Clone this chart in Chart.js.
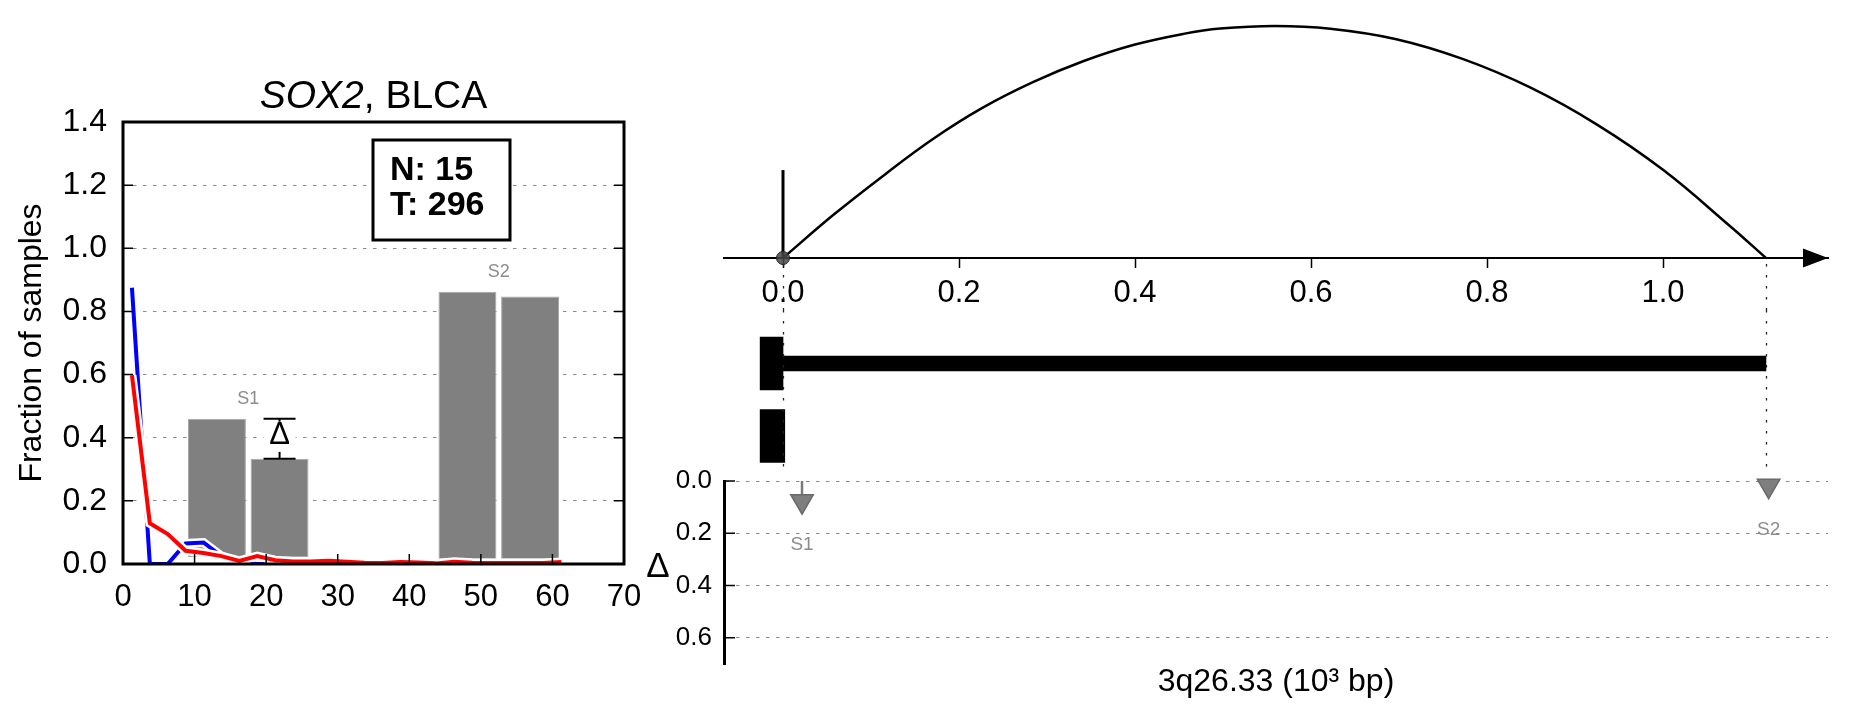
<!DOCTYPE html>
<html>
<head>
<meta charset="utf-8">
<title>SOX2, BLCA</title>
<script src="https://cdn.jsdelivr.net/npm/chart.js@4.4.1/dist/chart.umd.min.js"></script>
<style>
  html, body { margin: 0; padding: 0; background: #fff; }
  #page { position: relative; width: 1851px; height: 718px; overflow: hidden; background: #fff; }
  canvas { position: absolute; }
</style>
</head>
<body>
<div id="page">
  <canvas id="hist" width="700" height="718" style="left:0;top:0"></canvas>
  <canvas id="arc" width="1151" height="310" style="left:700px;top:0"></canvas>
  <canvas id="genes" width="1151" height="170" style="left:700px;top:310px"></canvas>
  <canvas id="delta" width="1251" height="278" style="left:600px;top:440px"></canvas>
</div>
<script>
// Left panel: fraction of samples per bin
const geneName = 'SOX2';
const cohort = 'BLCA';
const sampleN = 15;
const sampleT = 296;
const binCenters = [1.25, 3.75, 6.25, 8.75, 11.25, 13.75, 16.25, 18.75, 21.25, 23.75, 26.25, 28.75, 31.25,
                    33.75, 36.25, 38.75, 41.25, 43.75, 46.25, 48.75, 51.25, 53.75, 56.25, 58.75, 61.25];
const normalFrac = [0.875, 0, 0, 0.065, 0.068, 0.025, 0.005, 0, 0, 0, 0, 0, 0,
                    0, 0, 0, 0, 0, 0, 0, 0, 0, 0, 0, 0];
const tumorFrac = [0.598, 0.129, 0.095, 0.042, 0.035, 0.025, 0.010, 0.025, 0.012, 0.008, 0.008, 0.010, 0.007,
                   0.004, 0.003, 0.006, 0.005, 0.002, 0.007, 0.004, 0.003, 0.003, 0.003, 0.003, 0.006];
const winStart = [8.75, 17.5, 43.75, 52.5];
const winEnd = [17.5, 26.25, 52.5, 61.25];
const winLow = [0.022, 0.022, 0.016, 0.016];
const winHigh = [0.46, 0.333, 0.862, 0.847];
const siteNames = ['S1', 'S2'];
const siteWindows = [[0, 1], [2, 3]];
const deltaSite = 0;
const deltaLabel = 'Δ';
const histXTicks = [0, 10, 20, 30, 40, 50, 60, 70];
const histYTicks = [0, 0.2, 0.4, 0.6, 0.8, 1.0, 1.2, 1.4];

// Right panel: locus coordinates (10^3 bp)
const coordMin = -0.06705;
const coordMax = 1.1875;
const coordTicks = [0, 0.2, 0.4, 0.6, 0.8, 1.0];
const arcX = [0, 0.057, 0.114, 0.170, 0.227, 0.284, 0.341, 0.398, 0.455, 0.497, 0.559,
              0.622, 0.697, 0.773, 0.849, 0.925, 1.0, 1.076, 1.117];
const arcY = [0, 0.185, 0.355, 0.512, 0.648, 0.758, 0.848, 0.918, 0.966, 0.989, 1.0,
              0.988, 0.943, 0.857, 0.735, 0.575, 0.38, 0.138, 0];
const anchorX = 0;
const anchorStick = 0.379;
const linkEnds = [0, 1.117];
const txNames = ['tx1', 'tx2'];
const exonSpans = [[-0.026, 0], [-0.026, 0.002]];
const bodySpans = [[0, 1.117], null];
const siteX = [0.0216, 1.12];
const siteDelta = [0.077, 0.018];
const siteStem = [0.051, 0];
const deltaTicks = [0, 0.2, 0.4, 0.6];
const coordTitle = '3q26.33 (10³ bp)';

const FONT = "'Liberation Sans', Arial, Helvetica, sans-serif";
Chart.defaults.font.family = FONT;
Chart.defaults.color = '#000';

const fmt1 = v => Number(v).toFixed(1);
const fixTicks = vals => scale => { scale.ticks = vals.map(v => ({ value: v })); };
const baseOpts = {
    responsive: false,
    animation: false,
    devicePixelRatio: 1,
    events: [],
    plugins: { legend: { display: false }, tooltip: { enabled: false } }
};

// Left panel decorations
const histPlugin = {
    id: 'histDecor',
    beforeDatasetsDraw(chart) {
        const { ctx, chartArea: a } = chart;
        const bx = a.right - 251, by = a.top + 18, bw = 137, bh = 100;
        ctx.save();
        ctx.fillStyle = '#fff';
        ctx.fillRect(bx, by, bw, bh);
        ctx.lineWidth = 3;
        ctx.strokeStyle = '#000';
        ctx.strokeRect(bx, by, bw, bh);
        ctx.fillStyle = '#000';
        ctx.font = 'bold 34px ' + FONT;
        ctx.textAlign = 'left';
        ctx.textBaseline = 'alphabetic';
        ctx.fillText('N: ' + sampleN, bx + 17, by + 40);
        ctx.fillText('T: ' + sampleT, bx + 17, by + 75);
        ctx.restore();
    },
    afterDatasetsDraw(chart) {
        const { ctx, scales: { x, y } } = chart;
        ctx.save();
        // site names above each window pair
        ctx.fillStyle = '#8c8c8c';
        ctx.font = '18px ' + FONT;
        ctx.textAlign = 'center';
        ctx.textBaseline = 'middle';
        siteWindows.forEach((w, i) => {
            const px = x.getPixelForValue(winEnd[w[0]]);
            const py = y.getPixelForValue(Math.max(winHigh[w[0]], winHigh[w[1]])) - 20;
            ctx.fillText(siteNames[i], px, py);
        });
        // delta bracket
        const w = siteWindows[deltaSite];
        const cx = x.getPixelForValue((winStart[w[1]] + winEnd[w[1]]) / 2);
        const yTop = y.getPixelForValue(winHigh[w[0]]);
        const yBot = y.getPixelForValue(winHigh[w[1]]);
        ctx.strokeStyle = '#000';
        ctx.lineWidth = 2;
        ctx.beginPath();
        ctx.moveTo(cx, yTop); ctx.lineTo(cx, yBot);
        ctx.moveTo(cx - 16, yTop); ctx.lineTo(cx + 16, yTop);
        ctx.moveTo(cx - 16, yBot); ctx.lineTo(cx + 16, yBot);
        ctx.stroke();
        const boxTop = yTop + 3, boxBot = yBot - 7;
        ctx.fillStyle = '#fff';
        ctx.fillRect(cx - 16, boxTop, 32, boxBot - boxTop);
        ctx.fillStyle = '#000';
        ctx.font = '31px ' + FONT;
        ctx.fillText(deltaLabel, cx, (boxTop + boxBot) / 2 - 1);
        ctx.restore();
    },
    afterDraw(chart) {
        const { ctx, chartArea: a, scales: { x, y } } = chart;
        ctx.save();
        // title with italic gene name
        ctx.fillStyle = '#000';
        ctx.textBaseline = 'alphabetic';
        ctx.textAlign = 'left';
        const fItal = 'italic 39px ' + FONT, fReg = '39px ' + FONT;
        const rest = ', ' + cohort;
        ctx.font = fItal;
        const w1 = ctx.measureText(geneName).width;
        ctx.font = fReg;
        const w2 = ctx.measureText(rest).width;
        const tx = (a.left + a.right) / 2 - (w1 + w2) / 2;
        ctx.font = fItal;
        ctx.fillText(geneName, tx, a.top - 14);
        ctx.font = fReg;
        ctx.fillText(rest, tx + w1, a.top - 14);
        // inward tick marks
        ctx.strokeStyle = '#000';
        ctx.lineWidth = 1.5;
        ctx.beginPath();
        histYTicks.forEach(v => {
            const py = y.getPixelForValue(v);
            ctx.moveTo(a.left, py); ctx.lineTo(a.left + 10, py);
            ctx.moveTo(a.right - 10, py); ctx.lineTo(a.right, py);
        });
        histXTicks.forEach(v => {
            const px = x.getPixelForValue(v);
            ctx.moveTo(px, a.bottom); ctx.lineTo(px, a.bottom - 10);
        });
        ctx.stroke();
        // frame
        ctx.lineWidth = 3;
        ctx.strokeRect(a.left, a.top, a.right - a.left, a.bottom - a.top);
        ctx.restore();
    }
};

const linePts = vals => binCenters.map((x, i) => ({ x, y: vals[i] }));

new Chart(document.getElementById('hist'), {
    type: 'bar',
    data: {
        datasets: [
            { type: 'line', data: linePts(tumorFrac), borderColor: '#ff0000', borderWidth: 4, pointRadius: 0, order: 1 },
            { type: 'line', data: linePts(tumorFrac), borderColor: '#ffffff', borderWidth: 9, pointRadius: 0, order: 2 },
            { type: 'line', data: linePts(normalFrac), borderColor: '#0000ff', borderWidth: 4, pointRadius: 0, order: 3 },
            { type: 'line', data: linePts(normalFrac), borderColor: '#ffffff', borderWidth: 9, pointRadius: 0, order: 4 },
            {
                type: 'bar',
                data: winStart.map((s, i) => ({ x: (s + winEnd[i]) / 2, y: [winLow[i], winHigh[i]] })),
                backgroundColor: '#808080',
                borderColor: '#a8a8a8',
                borderWidth: 1,
                borderSkipped: false,
                barPercentage: 0.925,
                categoryPercentage: 1,
                order: 5
            }
        ]
    },
    options: {
        ...baseOpts,
        layout: { padding: { left: 0, right: 76, top: 122, bottom: 0 } },
        scales: {
            x: {
                type: 'linear', min: 0, max: 70, offset: false,
                afterBuildTicks: fixTicks(histXTicks),
                afterFit: s => { s.height = 154; },
                grid: { display: false },
                border: { display: false },
                ticks: { font: { size: 31 }, padding: 7, autoSkip: false, maxRotation: 0, callback: v => String(v) }
            },
            y: {
                type: 'linear', min: 0, max: 1.4,
                afterBuildTicks: fixTicks(histYTicks),
                afterFit: s => { s.width = 123; },
                grid: {
                    drawTicks: false,
                    lineWidth: 1,
                    color: c => (c.tick && c.tick.value > 0.01 && c.tick.value < 1.39) ? '#8a8a8a' : 'rgba(0,0,0,0)'
                },
                border: { display: false, dash: [3.5, 6.5] },
                ticks: { font: { size: 32 }, padding: 16, autoSkip: false, callback: fmt1 },
                title: { display: true, text: 'Fraction of samples', font: { size: 32 }, padding: { top: 13, bottom: 0 } }
            }
        }
    },
    plugins: [histPlugin]
});

// Right panel, top: link arc over the coordinate axis
const arcPlugin = {
    id: 'arcDecor',
    afterDatasetsDraw(chart) {
        const { ctx, chartArea: a, scales: { x } } = chart;
        ctx.save();
        ctx.strokeStyle = '#222';
        ctx.lineWidth = 1.3;
        ctx.setLineDash([2.5, 8.5]);
        linkEnds.forEach(v => {
            const px = Math.round(x.getPixelForValue(v)) + 0.5;
            ctx.beginPath(); ctx.moveTo(px, a.bottom + 6); ctx.lineTo(px, chart.height); ctx.stroke();
        });
        ctx.setLineDash([]);
        ctx.fillStyle = '#000';
        ctx.beginPath();
        ctx.moveTo(a.right, a.bottom);
        ctx.lineTo(a.right - 25, a.bottom - 9.5);
        ctx.lineTo(a.right - 25, a.bottom + 9.5);
        ctx.closePath();
        ctx.fill();
        ctx.restore();
    }
};

new Chart(document.getElementById('arc'), {
    type: 'scatter',
    data: {
        datasets: [
            { data: [{ x: anchorX, y: 0 }], pointRadius: 6.5, backgroundColor: 'rgba(70,70,70,0.85)', borderColor: '#222', borderWidth: 1, clip: false },
            { type: 'line', data: [{ x: anchorX, y: 0 }, { x: anchorX, y: anchorStick }], borderColor: '#000', borderWidth: 3, pointRadius: 0, clip: false },
            { type: 'line', data: arcX.map((x, i) => ({ x, y: arcY[i] })), borderColor: '#000', borderWidth: 2.5, pointRadius: 0, tension: 0.4, clip: false }
        ]
    },
    options: {
        ...baseOpts,
        layout: { padding: { left: 24, right: 23, top: 26, bottom: 0 } },
        scales: {
            x: {
                type: 'linear', min: coordMin, max: coordMax,
                afterBuildTicks: fixTicks(coordTicks),
                afterFit: s => { s.height = 52; },
                grid: { drawOnChartArea: false, drawTicks: true, tickLength: 10, tickColor: '#000', tickWidth: 1.5 },
                border: { display: true, color: '#000', width: 2 },
                ticks: { font: { size: 31 }, padding: 7, autoSkip: false, maxRotation: 0, callback: fmt1 }
            },
            y: { type: 'linear', display: false, min: 0, max: 1 }
        }
    },
    plugins: [arcPlugin]
});

// Right panel, middle: transcripts
const genePlugin = {
    id: 'geneDecor',
    afterDatasetsDraw(chart) {
        const { ctx, chartArea: a, scales: { x } } = chart;
        ctx.save();
        ctx.strokeStyle = '#222';
        ctx.lineWidth = 1.3;
        ctx.setLineDash([2.5, 8.5]);
        linkEnds.forEach(v => {
            const px = Math.round(x.getPixelForValue(v)) + 0.5;
            ctx.beginPath(); ctx.moveTo(px, 0); ctx.lineTo(px, a.bottom - 2); ctx.stroke();
        });
        ctx.restore();
    }
};

new Chart(document.getElementById('genes'), {
    type: 'bar',
    data: {
        labels: txNames,
        datasets: [
            { data: exonSpans, backgroundColor: '#000', barThickness: 53, borderWidth: 0, grouped: false },
            { data: bodySpans, backgroundColor: '#000', barThickness: 15, borderWidth: 0, grouped: false }
        ]
    },
    options: {
        ...baseOpts,
        indexAxis: 'y',
        layout: { padding: { left: 24, right: 23, top: 17.25, bottom: 7.75 } },
        scales: {
            x: { type: 'linear', display: false, min: coordMin, max: coordMax },
            y: { display: false }
        }
    },
    plugins: [genePlugin]
});

// Right panel, bottom: delta per site
const deltaPlugin = {
    id: 'deltaDecor',
    afterDatasetsDraw(chart) {
        const { ctx, chartArea: a, scales: { x, y } } = chart;
        ctx.save();
        ctx.strokeStyle = '#000';
        ctx.lineWidth = 1.5;
        ctx.beginPath();
        deltaTicks.forEach(v => {
            const py = y.getPixelForValue(v);
            ctx.moveTo(a.left, py); ctx.lineTo(a.left + 11, py);
        });
        ctx.stroke();
        ctx.fillStyle = '#8c8c8c';
        ctx.font = '19px ' + FONT;
        ctx.textAlign = 'center';
        ctx.textBaseline = 'middle';
        siteNames.forEach((n, i) => {
            ctx.fillText(n, x.getPixelForValue(siteX[i]), y.getPixelForValue(siteDelta[i]) + 44);
        });
        ctx.fillStyle = '#000';
        ctx.font = '35px ' + FONT;
        ctx.fillText(deltaLabel, a.left - 66, (a.top + a.bottom) / 2 - 5);
        ctx.restore();
    }
};

const stemSets = siteX.map((sx, i) => siteStem[i] > 0 ? {
    type: 'line',
    data: [{ x: sx, y: 0 }, { x: sx, y: siteStem[i] }],
    borderColor: '#7a7a7a', borderWidth: 2.5, pointRadius: 0, clip: false
} : null).filter(Boolean);

new Chart(document.getElementById('delta'), {
    type: 'scatter',
    data: {
        datasets: [
            {
                data: siteX.map((x, i) => ({ x, y: siteDelta[i] })),
                pointStyle: 'triangle', rotation: 180, pointRadius: 13,
                backgroundColor: '#7f7f7f', borderColor: '#6a6a6a', borderWidth: 1.5, clip: false
            },
            ...stemSets
        ]
    },
    options: {
        ...baseOpts,
        layout: { padding: { left: 0, right: 23, top: 41, bottom: 0 } },
        scales: {
            x: {
                type: 'linear', min: coordMin, max: coordMax,
                afterFit: s => { s.height = 54; },
                grid: { display: false },
                border: { display: false },
                ticks: { display: false },
                title: { display: true, text: coordTitle, font: { size: 32 }, padding: { top: 0, bottom: 17 } }
            },
            y: {
                type: 'linear', reverse: true, min: 0, max: 0.7,
                afterBuildTicks: fixTicks(deltaTicks),
                afterFit: s => { s.width = 124; },
                grid: { color: '#8a8a8a', lineWidth: 1, drawTicks: false },
                border: { display: true, color: '#000', width: 3, dash: [3.5, 6.5] },
                ticks: { font: { size: 26 }, padding: 12, autoSkip: false, callback: fmt1 }
            }
        }
    },
    plugins: [deltaPlugin]
});
</script>
</body>
</html>
